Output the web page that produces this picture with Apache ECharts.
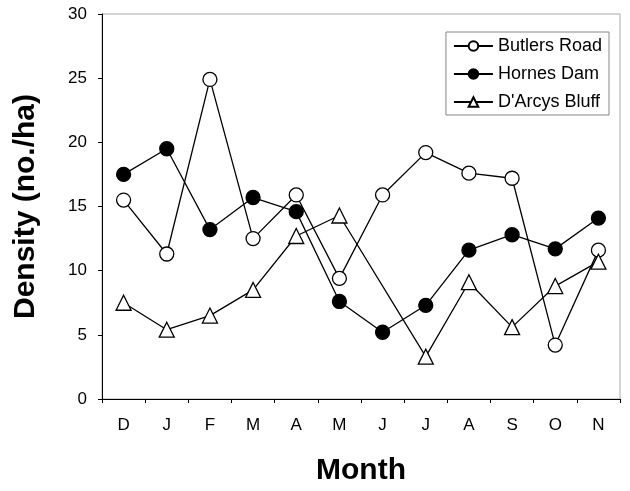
<!DOCTYPE html>
<html><head><meta charset="utf-8">
<script src="https://cdn.jsdelivr.net/npm/echarts@6/dist/echarts.min.js"></script>
<style>html,body{margin:0;padding:0;background:#fff}#c{width:630px;height:491px}</style>
</head><body><div id="c"></div>
<script>
const months = ['D','J','F','M','A','M','J','J','A','S','O','N'];
const butlersRoad = [15.5, 11.3, 24.9, 12.5, 15.9, 9.4, 15.9, 19.2, 17.6, 17.2, 4.2, 11.6];
const hornesDam = [17.5, 19.5, 13.2, 15.7, 14.6, 7.6, 5.2, 7.3, 11.6, 12.8, 11.7, 14.1];
const darcysBluff = [7.5, 5.4, 6.5, 8.5, 12.7, 14.3, null, 3.3, 9.1, 5.6, 8.8, 10.7];
const yTicks = {min: 0, max: 30, interval: 5};
const seriesNames = ['Butlers Road', 'Hornes Dam', "D'Arcys Bluff"];

const chart = echarts.init(document.getElementById('c'));
const font = 'Arial, "Liberation Sans", sans-serif';
function mk(name, data, symbol, fill) {
  return {
    name, type: 'line', data, symbol, symbolSize: symbol === 'triangle' ? 15 : 14,
    connectNulls: true, showAllSymbol: true,
    lineStyle: {color: '#000', width: 1.3},
    itemStyle: {color: fill, borderColor: '#000', borderWidth: 1.3},
    emphasis: {disabled: true}, z: 3
  };
}
chart.setOption({
  animation: false,
  backgroundColor: '#fff',
  grid: {left: 102, right: 10, top: 14, bottom: 91, show: true, borderColor: '#aaa', borderWidth: 1},
  legend: {
    right: 21, top: 32, orient: 'vertical', itemGap: 8, itemWidth: 39, itemHeight: 12,
    padding: [4, 7, 3, 7], borderColor: '#888', borderWidth: 1,
    textStyle: {fontFamily: font, fontSize: 18, lineHeight: 20, color: '#000'},
    data: seriesNames
  },
  xAxis: {
    type: 'category', data: months, boundaryGap: true,
    name: 'Month', nameLocation: 'middle', nameGap: 57,
    nameTextStyle: {fontFamily: font, fontSize: 30, fontWeight: 'bold', color: '#000'},
    axisLine: {lineStyle: {color: '#000', width: 1}},
    axisTick: {show: true, length: 4, lineStyle: {color: '#000'}},
    axisLabel: {fontFamily: font, fontSize: 17, color: '#000', margin: 18}
  },
  yAxis: {
    type: 'value', min: yTicks.min, max: yTicks.max, interval: yTicks.interval,
    name: 'Density (no./ha)', nameLocation: 'middle', nameGap: 61,
    nameTextStyle: {fontFamily: font, fontSize: 30, fontWeight: 'bold', color: '#000'},
    axisLine: {show: true, lineStyle: {color: '#000', width: 1}},
    axisTick: {show: true, length: 4, lineStyle: {color: '#000'}},
    splitLine: {show: false},
    axisLabel: {fontFamily: font, fontSize: 17, color: '#000', margin: 15}
  },
  series: [
    mk(seriesNames[0], butlersRoad, 'circle', '#fff'),
    mk(seriesNames[1], hornesDam, 'circle', '#000'),
    mk(seriesNames[2], darcysBluff, 'triangle', '#fff')
  ]
});
</script></body></html>
